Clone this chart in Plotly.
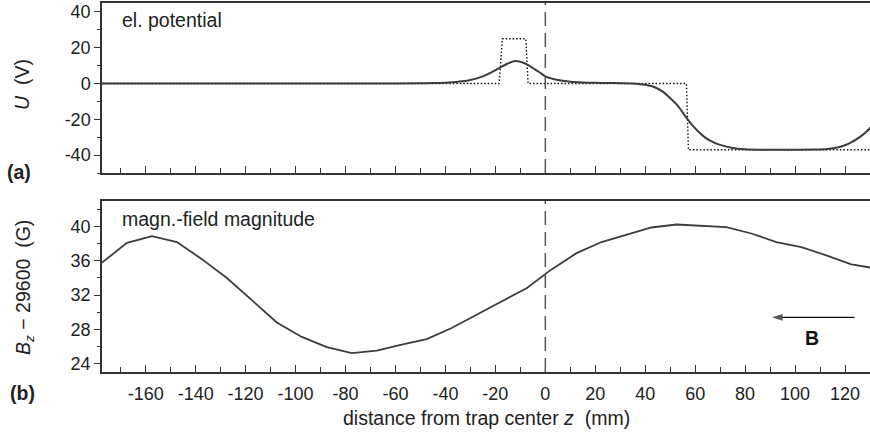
import plotly.graph_objects as go

# ---- (a) electrostatic potential along the trap axis ----
z_pot = [-180, -60, -50, -45, -40, -35, -30, -25, -21, -18, -15, -12.5, -10, -8, -6, -4, -2,
         0, 2, 4, 7, 10, 15, 20, 25, 30, 35, 38, 41, 44, 47, 50, 53, 56, 59, 62, 64, 67,
         70, 75, 80, 85, 95, 108, 113, 117, 120, 123, 126, 128, 130, 132]
u_pot = [0, 0, 0.1, 0.25, 0.5, 1.0, 2.0, 4.0, 6.6, 9.0, 11.2, 12.5, 12.2, 11.2, 9.6, 7.8, 6.0,
         4.0, 3.0, 2.2, 1.5, 1.0, 0.6, 0.4, 0.3, 0.15, 0, -0.4, -1.0, -2.2, -4.5, -8.2, -12.3,
         -18.2, -23.5, -27.8, -30.2, -32.6, -34.3, -36.0, -36.7, -36.95, -37.0, -36.9, -36.6,
         -35.8, -34.5, -32.5, -29.8, -27.7, -24.8, -21.5]

# electrode voltages (step profile)
z_elec = [-180, -18.5, -17.2, -7.8, -6.9, 56.5, 57.3, 132]
u_elec = [0, 0, 25, 25, 0, 0, -37, -37]

# ---- (b) measured axial magnetic field, offset by 29600 G ----
z_field = [-177.5, -167.5, -157.5, -147.5, -137.5, -127.5, -117.5, -107.5, -97.5, -87.5,
           -77.5, -67.5, -57.5, -47.5, -37.5, -27.5, -17.5, -7.5, 2.5, 12.5, 22.5, 32.5,
           42.5, 52.5, 62.5, 72.5, 82.5, 92.5, 102.5, 112.5, 122.5, 132.5]
b_field = [35.8, 38.1, 38.9, 38.2, 36.2, 34.0, 31.4, 28.8, 27.1, 25.9,
           25.2, 25.5, 26.2, 26.85, 28.15, 29.7, 31.3, 32.8, 35.0, 36.9, 38.2, 39.05,
           39.9, 40.25, 40.1, 39.95, 39.2, 38.2, 37.6, 36.65, 35.6, 35.1]

TRAP_CENTER = 0

x_ticks = list(range(-160, 121, 20))
x_ticktext = [str(v) for v in x_ticks]
u_ticks = [-40, -20, 0, 20, 40]
u_ticktext = [str(v) for v in u_ticks]
b_ticks = [24, 28, 32, 36, 40]
b_ticktext = [str(v) for v in b_ticks]

FONT = "Liberation Sans, Arial, sans-serif"
INK = "#222222"
CURVE = "#3c3c3c"
AXIS = "#333333"
LABEL_SIZE = 19.5

fig = go.Figure()
fig.add_trace(go.Scatter(x=z_elec, y=u_elec, mode="lines", xaxis="x", yaxis="y",
                         line=dict(color="#111111", width=1.4, dash="1.5px,2px"),
                         showlegend=False, hoverinfo="skip"))
fig.add_trace(go.Scatter(x=z_pot, y=u_pot, mode="lines", xaxis="x", yaxis="y",
                         line=dict(color=CURVE, width=2, shape="spline", smoothing=0.8),
                         showlegend=False))
fig.add_trace(go.Scatter(x=z_field, y=b_field, mode="lines", xaxis="x2", yaxis="y2",
                         line=dict(color=CURVE, width=1.8),
                         showlegend=False))

tickfont = dict(family=FONT, size=18, color=INK)
x_common = dict(range=[-177.5, 130], showgrid=False, zeroline=False,
                showline=True, linecolor=AXIS, linewidth=1.5, mirror=True,
                ticks="inside", ticklen=7, tickwidth=1.2, tickcolor=AXIS,
                tickvals=x_ticks, ticktext=x_ticktext, tickfont=tickfont,
                minor=dict(tickmode="linear", tick0=0, dtick=10, ticks="inside",
                           ticklen=5, tickwidth=1.2, tickcolor=AXIS))
y_common = dict(showgrid=False, zeroline=False, showline=True, linecolor=AXIS,
                linewidth=1.5, ticks="outside", ticklen=6, tickwidth=1.2,
                tickcolor=AXIS, tickfont=tickfont)

fig.update_layout(
    width=870, height=436,
    margin=dict(l=102, r=0, t=3, b=64),
    paper_bgcolor="white", plot_bgcolor="white",
    font=dict(family=FONT, size=18, color=INK),
    xaxis=dict(domain=[0, 1], anchor="y", showticklabels=False, **x_common),
    xaxis2=dict(domain=[0, 1], anchor="y2", matches="x", showticklabels=True,
                ticklabelstandoff=5, **x_common),
    yaxis=dict(domain=[0.5393, 1], anchor="x", range=[-50, 45],
               tickvals=u_ticks, ticktext=u_ticktext,
               minor=dict(tickmode="linear", tick0=0, dtick=10, ticks="outside",
                          ticklen=3, tickwidth=1.2, tickcolor=AXIS),
               **y_common),
    yaxis2=dict(domain=[0, 0.4634], anchor="x2", range=[23, 43],
                tickvals=b_ticks, ticktext=b_ticktext,
                minor=dict(tickmode="linear", tick0=0, dtick=2, ticks="outside",
                           ticklen=3, tickwidth=1.2, tickcolor=AXIS),
                **y_common),
)

# trap center marker in both panels
for xr, yr in (("x", "y domain"), ("x2", "y2 domain")):
    fig.add_shape(type="line", xref=xr, yref=yr, x0=TRAP_CENTER, x1=TRAP_CENTER,
                  y0=0, y1=1, line=dict(color="#555555", width=1.5, dash="14px,7px"))

def label(text, x, y, xanchor="left", angle=0, size=LABEL_SIZE):
    fig.add_annotation(text=text, xref="paper", yref="paper", x=x, y=y,
                       xanchor=xanchor, yanchor="middle", showarrow=False,
                       textangle=angle, font=dict(family=FONT, size=size, color=INK))

label("el. potential", 0.0234, 0.954)
label("magn.-field magnitude", 0.0234, 0.4146)
label("<b>(a)</b>", -0.1263, 0.542)
label("<b>(b)</b>", -0.1224, -0.0569)
label("<i>U</i>  (V)", -0.1042, 0.7805, xanchor="center", angle=-90)
label("<i>B<sub>z</sub></i> − 29600  (G)", -0.1003, 0.2304, xanchor="center", angle=-90)
label("distance from trap center <i>z</i>  (mm)", 0.5013, -0.1247, xanchor="center")

# field direction arrow: shaft plus an arrowhead marker at its left end
fig.add_trace(go.Scatter(x=[123.8, 90.8], y=[29.4, 29.4], mode="lines+markers",
                         xaxis="x2", yaxis="y2", showlegend=False, hoverinfo="skip",
                         line=dict(color="#111111", width=1.3),
                         marker=dict(symbol="arrow", angleref="previous", size=[0, 11],
                                     color="#111111", line=dict(width=0))))
fig.add_annotation(xref="x2", yref="y2", x=106.7, y=27.0, text="<b>B</b>",
                   showarrow=False, font=dict(family=FONT, size=LABEL_SIZE, color="#111111"))

fig.write_html("out.html")
